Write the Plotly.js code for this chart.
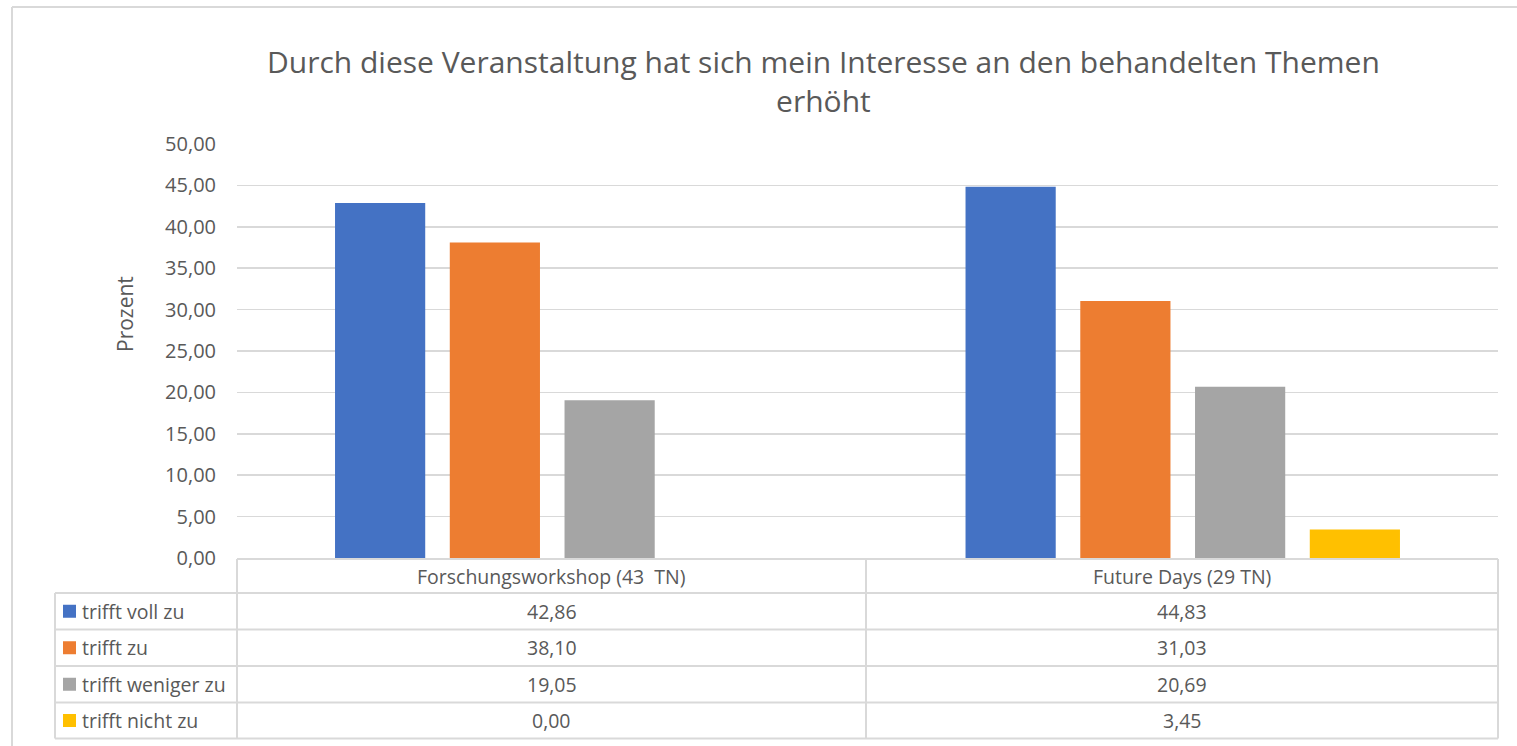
<!DOCTYPE html>
<html><head><meta charset="utf-8">
<script src="https://cdn.plot.ly/plotly-3.0.1.min.js"></script>
<style>html,body{margin:0;padding:0;background:#fff;}#chart{width:1517px;height:746px;}</style>
</head><body><div id="chart"></div>
<script>
const categories = ["Forschungsworkshop (43  TN)", "Future Days (29 TN)"];
const seriesNames = ["trifft voll zu", "trifft zu", "trifft weniger zu", "trifft nicht zu"];
const trifftVollZu = [42.86, 44.83];
const trifftZu = [38.10, 31.03];
const trifftWenigerZu = [19.05, 20.69];
const trifftNichtZu = [0.00, 3.45];
const yTicks = [0, 5, 10, 15, 20, 25, 30, 35, 40, 45, 50];
const titleText = "Durch diese Veranstaltung hat sich mein Interesse an den behandelten Themen<br>erhöht";
const yTitle = "Prozent";

const seriesValues = [trifftVollZu, trifftZu, trifftWenigerZu, trifftNichtZu];
const colors = ["#4472C4", "#ED7D31", "#A5A5A5", "#FFC000"];
const FONT = "Open Sans, Noto Sans, sans-serif";
const TXT = "#595959";
const LINE = "#d9d9d9";
const TFS = 19.5;

// pixel -> paper helpers (plot area: x 237..1498, y 144..558)
const L = 237, R = 1498, T = 144, B = 558;
const px = p => (p - L) / (R - L);
const py = p => (B - p) / (B - T);
const fmt = v => v.toFixed(2).replace('.', ',');

const traces = seriesNames.map((n, i) => ({
  type: 'bar', name: n, x: [0, 1], y: seriesValues[i],
  marker: {color: colors[i]}, hoverinfo: 'skip'
}));

const shapes = [];
const annotations = [];
function hline(x0, x1, y) { shapes.push({type:'line', xref:'paper', yref:'paper', x0:px(x0), x1:px(x1), y0:py(y), y1:py(y), line:{color:LINE, width:2}}); }
function vline(x, y0, y1) { shapes.push({type:'line', xref:'paper', yref:'paper', x0:px(x), x1:px(x), y0:py(y0), y1:py(y1), line:{color:LINE, width:2}}); }

// outer chart border (top & left visible)
vline(12, 7, 800);
hline(12, 1560, 7);

// table grid
const colX = [55, 237, 866, 1498];
const rowY = [559, 593, 629.5, 666, 702.5, 738.5];
hline(237, 1498, rowY[0]);
for (let r = 1; r < rowY.length; r++) hline(55, 1498, rowY[r]);
vline(55, rowY[1], rowY[5]);
vline(237, rowY[0], rowY[5]);
vline(866, rowY[0], rowY[5]);
vline(1498, rowY[0], rowY[5]);

// header texts
categories.forEach((c, j) => {
  annotations.push({xref:'paper', yref:'paper', x:px((colX[j+1]+colX[j+2])/2), y:py((rowY[0]+rowY[1])/2),
    text:c.replace('  ', ' \u00a0'), showarrow:false, xanchor:'center', yanchor:'middle', font:{family:FONT, size:TFS, color:TXT}});
});
// rows
seriesNames.forEach((n, i) => {
  const yc = (rowY[i+1] + rowY[i+2]) / 2;
  shapes.push({type:'rect', xref:'paper', yref:'paper', x0:px(63), x1:px(76), y0:py(yc-6.5), y1:py(yc+6.5), fillcolor:colors[i], line:{width:0}});
  annotations.push({xref:'paper', yref:'paper', x:px(80), y:py(yc), text:n, showarrow:false, xanchor:'left', yanchor:'middle', font:{family:FONT, size:TFS, color:TXT}});
  seriesValues[i].forEach((v, j) => {
    annotations.push({xref:'paper', yref:'paper', x:px((colX[j+1]+colX[j+2])/2), y:py(yc), text:fmt(v), showarrow:false, xanchor:'center', yanchor:'middle', font:{family:FONT, size:TFS, color:TXT}});
  });
});

// title
annotations.push({xref:'paper', yref:'paper', x:px(823), y:py(81), text:titleText, showarrow:false, xanchor:'center', yanchor:'middle', align:'center', font:{family:FONT, size:30, color:TXT}});
// y axis title
annotations.push({xref:'paper', yref:'paper', x:px(125), y:py(314), text:yTitle, textangle:-90, showarrow:false, xanchor:'center', yanchor:'middle', font:{family:FONT, size:21, color:TXT}});

const layout = {
  width: 1517, height: 746,
  margin: {l: L, r: 1517 - R, t: T, b: 746 - B, pad: 0},
  paper_bgcolor: '#fff', plot_bgcolor: '#fff',
  separators: ',.',
  showlegend: false,
  barmode: 'group', bargap: 0.272, bargroupgap: 0.214,
  xaxis: {range: [-0.5, 1.5], showticklabels: false, showgrid: false, zeroline: false, showline: false, ticks: '', fixedrange: true},
  yaxis: {range: [0, 50], tickvals: yTicks, tickformat: '.2f', showgrid: true, gridcolor: LINE, gridwidth: 1.5,
    zeroline: false, showline: false, ticks: '', ticklabelstandoff: 20,
    tickfont: {family: FONT, size: 20, color: TXT}, fixedrange: true},
  shapes: shapes, annotations: annotations
};
Plotly.newPlot('chart', traces, layout, {displayModeBar: false, staticPlot: true});
</script></body></html>
